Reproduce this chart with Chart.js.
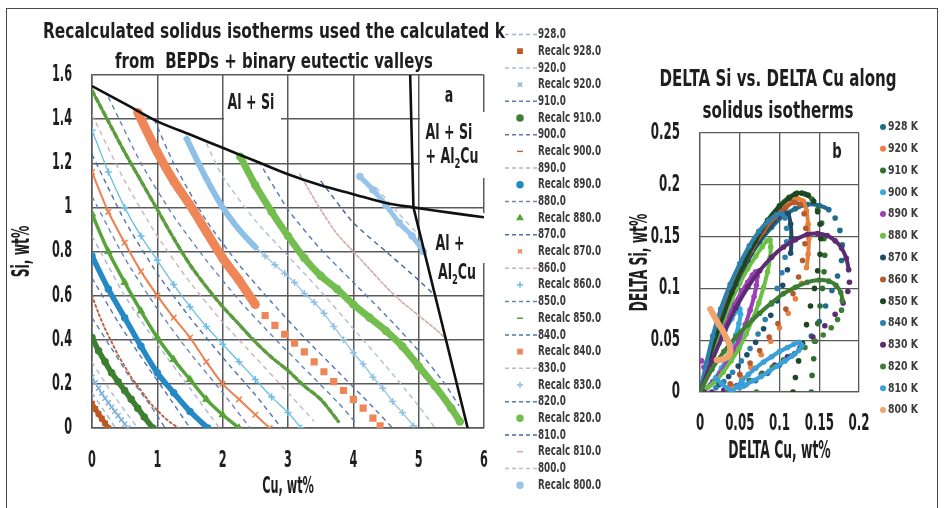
<!DOCTYPE html>
<html>
<head>
<meta charset="utf-8">
<script src="https://cdn.jsdelivr.net/npm/chart.js@4"></script>
<style>
  html, body { margin: 0; padding: 0; background: #fff; }
  #page { position: relative; width: 944px; height: 508px; overflow: hidden; background: #fff; }
  #frame { position: absolute; left: 6px; top: 8px; width: 930px; height: 520px; border: 1.5px solid #4a4a4a; }
  #left { position: absolute; left: 0; top: 0; width: 620px; height: 508px; }
  #right { position: absolute; left: 620px; top: 0; width: 324px; height: 508px; }
</style>
</head>
<body>
<div id="page">
  <div id="frame"></div>
  <canvas id="left" width="620" height="508"></canvas>
  <canvas id="right" width="324" height="508"></canvas>
</div>
<script>
// ---------- Panel a: solidus isotherms, [Cu wt%, Si wt%] ----------
const isothermTemps = ['928.0','920.0','910.0','900.0','890.0','880.0','870.0','860.0','850.0','840.0','830.0','820.0','810.0','800.0'];

// straight isotherms (dashed)
const line928 = [[0,0.16],[0.18,0.08],[0.36,0.0]];
const line920 = [[0,0.3],[0.3,0.16],[0.6,0.04],[0.7,0.0]];
const line910 = [[0,0.5],[0.3,0.36],[0.6,0.22],[0.9,0.1],[1.12,0.0]];
const line900 = [[0,0.68],[0.4,0.48],[0.8,0.3],[1.2,0.13],[1.5,0.0]];
const line890 = [[0,0.87],[0.5,0.6],[1,0.38],[1.5,0.18],[1.95,0.0]];
const line880 = [[0,1.05],[0.5,0.77],[1,0.54],[1.5,0.34],[2,0.16],[2.42,0.0]];
const line870 = [[0,1.24],[0.5,0.94],[1,0.7],[1.5,0.5],[2,0.32],[2.5,0.15],[2.9,0.0]];
const line860 = [[0,1.42],[0.5,1.12],[1,0.87],[1.5,0.66],[2,0.48],[2.5,0.32],[3,0.16],[3.4,0.03]];
const line850 = [[0.25,1.5],[0.75,1.2],[1.25,0.96],[1.75,0.76],[2.25,0.58],[2.75,0.42],[3.25,0.27],[3.75,0.12],[4.05,0.02]];
const line840 = [[0.95,1.4],[1.25,1.2],[1.75,0.94],[2.25,0.74],[2.75,0.57],[3.25,0.41],[3.75,0.26],[4.25,0.11],[4.6,0.0]];
const line830 = [[1.75,1.29],[2,1.14],[2.5,0.94],[3,0.78],[3.5,0.62],[4,0.45],[4.5,0.28],[5,0.1],[5.25,0.0]];
const line820 = [[2.55,1.21],[3,0.99],[3.5,0.81],[4,0.66],[4.5,0.51],[5,0.35],[5.4,0.2],[5.62,0.1]];
const line810 = [[3.5,1.12],[4,0.93],[4.5,0.8],[5,0.67],[5.25,0.6]];
const line800 = [[4.35,1.09],[4.7,0.97],[5.02,0.87]];

// recalculated isotherms
const recalc928 = [[0,0.11],[0.05,0.087],[0.1,0.064],[0.15,0.043],[0.2,0.021],[0.25,0.0]];
const recalc920 = [[0,0.23],[0.05,0.205],[0.1,0.18],[0.15,0.157],[0.2,0.135],[0.25,0.115],[0.3,0.095],[0.35,0.075],[0.4,0.056],[0.45,0.037],[0.5,0.018],[0.55,0.0]];
const recalc910 = [[0,0.41],[0.1,0.35],[0.2,0.3],[0.3,0.25],[0.4,0.21],[0.5,0.17],[0.6,0.13],[0.7,0.09],[0.8,0.05],[0.93,0.0]];
const recalc900 = [[0,0.6],[0.1,0.52],[0.2,0.45],[0.3,0.39],[0.4,0.33],[0.5,0.28],[0.6,0.23],[0.7,0.19],[0.8,0.15],[0.9,0.11],[1,0.08],[1.1,0.05],[1.2,0.025],[1.33,0.0]];
const recalc890 = [[0,0.78],[0.25,0.63],[0.5,0.5],[0.75,0.37],[1,0.25],[1.25,0.16],[1.5,0.075],[1.77,0.0]];
const recalc880 = [[0,0.97],[0.25,0.8],[0.5,0.66],[0.75,0.53],[1,0.41],[1.25,0.31],[1.5,0.22],[1.75,0.13],[2,0.06],[2.25,0.0]];
const recalc870 = [[0,1.16],[0.25,0.98],[0.5,0.84],[0.75,0.71],[1,0.6],[1.25,0.5],[1.5,0.41],[1.75,0.3],[2,0.2],[2.25,0.13],[2.5,0.06],[2.72,0.0]];
const recalc860 = [[0,1.35],[0.25,1.16],[0.5,1.0],[0.75,0.87],[1,0.76],[1.25,0.65],[1.5,0.55],[1.75,0.46],[2,0.38],[2.25,0.3],[2.5,0.22],[2.75,0.14],[3,0.07],[3.2,0.0]];
const recalc850 = [[0,1.53],[0.25,1.39],[0.5,1.25],[0.75,1.12],[1,0.99],[1.25,0.86],[1.5,0.74],[1.75,0.64],[2,0.55],[2.25,0.47],[2.5,0.39],[2.75,0.32],[3,0.26],[3.25,0.19],[3.5,0.13],[3.77,0.03]];
const recalc840 = [[0.7,1.43],[1,1.25],[1.25,1.12],[1.5,1.01],[1.75,0.89],[2,0.77],[2.25,0.67],[2.5,0.56],[2.65,0.51],[2.8,0.465],[2.95,0.425],[3.1,0.385],[3.25,0.345],[3.4,0.3],[3.55,0.255],[3.7,0.21],[3.85,0.17],[4,0.13],[4.15,0.09],[4.3,0.045],[4.41,0.01]];
const recalc830 = [[1.45,1.31],[1.75,1.13],[2,1.0],[2.25,0.9],[2.5,0.82],[2.65,0.78],[2.8,0.74],[2.95,0.7],[3.1,0.66],[3.25,0.61],[3.4,0.57],[3.55,0.52],[3.7,0.46],[3.85,0.4],[4,0.34],[4.15,0.29],[4.3,0.23],[4.45,0.18],[4.6,0.12],[4.75,0.07],[4.92,0.01]];
const recalc820 = [[2.27,1.23],[2.5,1.1],[2.75,0.98],[3,0.87],[3.25,0.77],[3.5,0.69],[3.75,0.63],[4,0.56],[4.25,0.5],[4.5,0.44],[4.75,0.37],[5,0.28],[5.25,0.19],[5.5,0.09],[5.63,0.03]];
const recalc810 = [[3.18,1.15],[3.5,0.99],[3.75,0.88],[4,0.8],[4.25,0.72],[4.5,0.64],[4.75,0.57],[5,0.51],[5.25,0.45],[5.43,0.4]];
const recalc800 = [[4.1,1.14],[4.3,1.08],[4.5,1.01],[4.7,0.93],[4.9,0.87],[5.07,0.8]];

// phase boundaries
const siValley = [[0,1.55],[0.5,1.47],[1,1.39],[1.5,1.33],[2,1.27],[2.5,1.21],[3,1.15],[3.5,1.1],[4,1.06],[4.5,1.02],[4.92,1.0],[5.5,0.975],[6,0.955]];
const al2cuValley = [[4.87,1.6],[4.92,1.0],[5.75,0.0]];

const leftXTicks = ['0','1','2','3','4','5','6'];
const leftYTicks = ['0','0.2','0.4','0.6','0.8','1','1.2','1.4','1.6'];

// ---------- Panel b: DELTA Si vs DELTA Cu, [dCu wt%, dSi wt%] ----------
const loopLabels = ['928 K','920 K','910 K','900 K','890 K','880 K','870 K','860 K','850 K','840 K','830 K','820 K','810 K','800 K'];

const arc928 = [[0,0],[0.01,0.028],[0.02,0.055],[0.03,0.078],[0.045,0.105],[0.06,0.127],[0.075,0.145],[0.09,0.159],[0.105,0.17],[0.12,0.177],[0.135,0.181],[0.15,0.18],[0.162,0.176]];
const ret928 = [[0.17,0.168],[0.176,0.156],[0.179,0.142],[0.178,0.127],[0.173,0.112],[0.166,0.098],[0.158,0.083],[0.15,0.068],[0.14,0.054],[0.128,0.044],[0.115,0.035],[0.1,0.026],[0.085,0.018],[0.07,0.011],[0.055,0.006],[0.04,0.002]];
const arc920 = [[0,0],[0.01,0.03],[0.02,0.057],[0.035,0.09],[0.05,0.117],[0.065,0.14],[0.08,0.158],[0.095,0.172],[0.11,0.182],[0.122,0.187],[0.13,0.184],[0.134,0.175],[0.136,0.162],[0.137,0.148],[0.136,0.133],[0.134,0.12]];
const ret920 = [[0.128,0.105],[0.12,0.09],[0.111,0.076],[0.1,0.062],[0.089,0.049],[0.077,0.036],[0.064,0.024],[0.052,0.014],[0.04,0.006]];
const arc910 = [[0,0],[0.012,0.035],[0.025,0.065],[0.04,0.097],[0.055,0.124],[0.07,0.147],[0.085,0.166],[0.1,0.18],[0.112,0.188],[0.122,0.192],[0.132,0.191],[0.141,0.186]];
const ret910 = [[0.148,0.176],[0.153,0.163],[0.156,0.148],[0.157,0.132],[0.156,0.116],[0.154,0.1],[0.151,0.083],[0.148,0.066],[0.145,0.049],[0.143,0.032],[0.141,0.016],[0.14,0]];
const arc900 = [[0,0],[0.008,0.016],[0.016,0.032],[0.024,0.047],[0.032,0.06],[0.04,0.071],[0.046,0.078],[0.05,0.08],[0.051,0.075],[0.049,0.066],[0.045,0.055],[0.04,0.044],[0.034,0.033],[0.027,0.023],[0.02,0.014],[0.013,0.007],[0.006,0.002]];
const ret900 = [];
const arc890 = [[0,0],[0.008,0.02],[0.016,0.038],[0.025,0.055],[0.034,0.07],[0.043,0.084],[0.052,0.096],[0.06,0.106],[0.066,0.113],[0.07,0.116],[0.072,0.112],[0.071,0.103],[0.068,0.092],[0.063,0.079],[0.057,0.065],[0.05,0.052],[0.042,0.039],[0.034,0.028],[0.025,0.018],[0.016,0.01],[0.008,0.004]];
const ret890 = [[0.002,0.03],[0.005,0.024]];
const arc880 = [[0,0],[0.01,0.026],[0.02,0.05],[0.03,0.071],[0.04,0.089],[0.05,0.105],[0.06,0.119],[0.07,0.131],[0.078,0.14],[0.084,0.146],[0.088,0.147],[0.089,0.14],[0.088,0.129],[0.085,0.116],[0.08,0.101],[0.074,0.086],[0.066,0.07],[0.058,0.056],[0.049,0.042],[0.039,0.03],[0.029,0.019],[0.019,0.01],[0.009,0.004]];
const ret880 = [];
const arc870 = [[0,0],[0.01,0.03],[0.02,0.056],[0.03,0.078],[0.045,0.104],[0.06,0.127],[0.075,0.146],[0.088,0.16],[0.098,0.169],[0.106,0.174],[0.111,0.172],[0.114,0.162],[0.115,0.148],[0.114,0.134]];
const ret870 = [[0.11,0.118],[0.104,0.103],[0.097,0.088],[0.089,0.074],[0.08,0.061],[0.07,0.048],[0.059,0.036],[0.048,0.025],[0.036,0.015],[0.024,0.007]];
const arc860 = [[0,0],[0.01,0.029],[0.02,0.055],[0.035,0.088],[0.05,0.114],[0.065,0.137],[0.08,0.155],[0.095,0.169],[0.108,0.178],[0.118,0.183],[0.126,0.181]];
const ret860 = [[0.131,0.172],[0.133,0.158],[0.132,0.143],[0.129,0.127],[0.124,0.111],[0.117,0.095],[0.108,0.08],[0.098,0.066],[0.087,0.053],[0.075,0.04],[0.063,0.028],[0.05,0.017],[0.038,0.008]];
const arc850 = [[0,0],[0.012,0.034],[0.025,0.064],[0.04,0.096],[0.055,0.123],[0.07,0.146],[0.085,0.165],[0.1,0.179],[0.112,0.187],[0.12,0.191],[0.128,0.192],[0.136,0.19]];
const ret850 = [[0.143,0.184],[0.148,0.174],[0.151,0.162],[0.152,0.148],[0.151,0.133],[0.148,0.117],[0.144,0.1],[0.139,0.083],[0.134,0.065],[0.129,0.047],[0.124,0.03],[0.12,0.014],[0.117,0]];
const arc840 = [[0,0],[0.008,0.028],[0.016,0.054],[0.026,0.08],[0.038,0.104],[0.05,0.124],[0.062,0.141],[0.074,0.155],[0.086,0.165],[0.096,0.171],[0.103,0.172],[0.107,0.168]];
const ret840 = [[0.109,0.158],[0.109,0.145],[0.107,0.13],[0.103,0.115],[0.097,0.1],[0.09,0.085],[0.082,0.07],[0.073,0.056],[0.063,0.042],[0.052,0.03],[0.041,0.019],[0.03,0.01],[0.02,0.004]];
const arc830 = [[0,0],[0.015,0.03],[0.03,0.057],[0.045,0.081],[0.06,0.101],[0.075,0.117],[0.09,0.13],[0.105,0.14],[0.12,0.147],[0.135,0.152],[0.148,0.153],[0.16,0.151],[0.17,0.146],[0.178,0.139],[0.184,0.129],[0.187,0.118]];
const ret830 = [[0.188,0.106],[0.186,0.097],[0.18,0.086],[0.17,0.075],[0.157,0.064],[0.142,0.053],[0.126,0.043],[0.11,0.034],[0.094,0.026],[0.078,0.018],[0.062,0.011],[0.046,0.006],[0.03,0.002],[0.015,0],[0.005,0]];
const arc820 = [[0,0],[0.015,0.022],[0.03,0.039],[0.045,0.053],[0.06,0.065],[0.075,0.076],[0.09,0.086],[0.105,0.095],[0.12,0.101],[0.135,0.106],[0.15,0.108],[0.162,0.107],[0.171,0.103],[0.177,0.096],[0.179,0.088]];
const ret820 = [[0.178,0.079],[0.173,0.07],[0.165,0.062],[0.155,0.055],[0.144,0.049],[0.132,0.043],[0.119,0.037],[0.105,0.031],[0.091,0.024],[0.077,0.017],[0.063,0.011],[0.049,0.005],[0.035,0.001],[0.071,0]];
const arc810 = [[0.02,0.013],[0.027,0.008],[0.034,0.004],[0.04,0.001],[0.046,0.005],[0.053,0.011],[0.061,0.017],[0.07,0.023],[0.08,0.029],[0.09,0.034],[0.1,0.039],[0.11,0.043],[0.118,0.046],[0.125,0.048],[0.128,0.045],[0.124,0.04],[0.116,0.035],[0.107,0.03],[0.097,0.025],[0.087,0.02],[0.077,0.015],[0.067,0.011],[0.058,0.007],[0.05,0.004]];
const ret810 = [];
const arc800 = [[0.013,0.08],[0.018,0.073],[0.023,0.066],[0.028,0.06],[0.032,0.054],[0.036,0.048],[0.038,0.043],[0.038,0.038],[0.035,0.034],[0.03,0.032],[0.025,0.031],[0.021,0.031]];
const ret800 = [];

const rightXTicks = ['0','0.05','0.1','0.15','0.2'];
const rightYTicks = ['0','0.05','0.1','0.15','0.2','0.25'];

// ---------- styling ----------
const FONT = "'DejaVu Sans','Liberation Sans',sans-serif";
const INK = '#1e1e1e';
const GRID = '#5a5a5a';
Chart.defaults.font.family = FONT;
Chart.defaults.color = INK;

const lineSeries = [line928, line920, line910, line900, line890, line880, line870, line860, line850, line840, line830, line820, line810, line800];
const recalcSeries = [recalc928, recalc920, recalc910, recalc900, recalc890, recalc880, recalc870, recalc860, recalc850, recalc840, recalc830, recalc820, recalc810, recalc800];
const lineColors = ['#9fb3d4','#aebcd4','#5b7cb9','#5677b5','#a9b7cf','#6a86bd','#4f6fae','#cdb2bb','#6583ba','#5274b3','#b0bdd3','#5778b6','#45639f','#b6c0d3'];
const recalcStyles = [
  { color: '#bd5a24', point: 'rect',     radius: 3,   width: 5 },
  { color: '#7fb0dc', point: 'crossRot', radius: 3.5, width: 1.2 },
  { color: '#3c7f30', point: 'circle',   radius: 3,   width: 5.5 },
  { color: '#b8694a', point: 'line',     radius: 0,   width: 2,   dash: [2, 3], legendPoint: 'line' },
  { color: '#2489c4', point: 'circle',   radius: 3,   width: 5.5 },
  { color: '#56a43a', point: 'triangle', radius: 3.5, width: 3.5 },
  { color: '#ec8150', point: 'crossRot', radius: 4,   width: 2 },
  { color: '#6cbde3', point: 'cross',    radius: 3.5, width: 1.3 },
  { color: '#5a9c3e', point: 'line',     radius: 0,   width: 3.5, dash: [5, 3], legendPoint: 'line' },
  { color: '#ee8658', point: 'rect',     radius: 4,   width: 9,   thinFrom: 2.5, thinWidth: 0 },
  { color: '#8dc0e6', point: 'cross',    radius: 3.5, width: 6,   thinFrom: 2.5, thinWidth: 1.2 },
  { color: '#74bd4f', point: 'circle',   radius: 3.5, width: 7 },
  { color: '#d3aaa8', point: 'line',     radius: 0,   width: 1.6, dash: [3, 2], legendPoint: 'line' },
  { color: '#98c4ea', point: 'circle',   radius: 3,   width: 5 }
];

const loopArcs = [arc928, arc920, arc910, arc900, arc890, arc880, arc870, arc860, arc850, arc840, arc830, arc820, arc810, arc800];
const loopReturns = [ret928, ret920, ret910, ret900, ret890, ret880, ret870, ret860, ret850, ret840, ret830, ret820, ret810, ret800];
const loopColors = ['#1f6b8e','#e8803f','#2f6f2f','#37a9db','#9c3fb8','#6bbf47','#1e4c66','#b45a2c','#1d4623','#2e80ad','#5d2b72','#3e7e34','#3aa0d9','#f2a46e'];
const loopWidths = [4, 4, 4, 4, 4, 4, 4, 4, 4, 4, 4, 4, 4, 6];

const toXY = arr => arr.map(([x, y]) => ({ x, y }));

// ---------- text helpers (condensed look via horizontal squeeze) ----------
function fitText(ctx, text, x, y, size, width, color) {
  ctx.save();
  ctx.font = `bold ${size}px ${FONT}`;
  const w = ctx.measureText(text).width;
  const k = width ? width / w : 1;
  ctx.translate(x, y);
  ctx.scale(k, 1);
  ctx.textAlign = 'center';
  ctx.textBaseline = 'middle';
  ctx.fillStyle = color || INK;
  ctx.fillText(text, 0, 0);
  ctx.restore();
}

function squeezeText(ctx, text, x, y, size, kx, color) {
  ctx.save();
  ctx.font = `bold ${size}px ${FONT}`;
  ctx.translate(x, y);
  ctx.scale(kx, 1);
  ctx.textAlign = 'left';
  ctx.textBaseline = 'middle';
  ctx.fillStyle = color;
  ctx.fillText(text, 0, 0);
  ctx.restore();
}

function chemText(ctx, parts, cx, cy, size) {
  ctx.save();
  const big = `bold ${size}px ${FONT}`;
  const small = `bold ${Math.round(size * 0.65)}px ${FONT}`;
  const kx = 0.6;
  let total = 0;
  parts.forEach(([t, sub]) => { ctx.font = sub ? small : big; total += ctx.measureText(t).width; });
  ctx.translate(cx - total * kx / 2, cy);
  ctx.scale(kx, 1);
  let x = 0;
  ctx.textBaseline = 'middle';
  ctx.textAlign = 'left';
  ctx.fillStyle = INK;
  parts.forEach(([t, sub]) => {
    ctx.font = sub ? small : big;
    ctx.fillText(t, x, sub ? size * 0.32 : 0);
    x += ctx.measureText(t).width;
  });
  ctx.restore();
}

// Axis text (ticks and axis titles) drawn by Chart.js is squeezed horizontally
// around its anchor so the digits get the tall, narrow look of the labels.
const TICK_SIZE = 23;
function condensedAxes(targetWidth) {
  return {
    id: 'condensedAxes',
    beforeDraw(chart) {
      const ctx = chart.ctx;
      ctx.save();
      ctx.font = `bold ${TICK_SIZE}px ${FONT}`;
      const k = targetWidth / ctx.measureText('1.6').width;
      ctx.restore();
      const base = CanvasRenderingContext2D.prototype.fillText;
      ctx.fillText = function (text, x, y) {
        this.save();
        this.translate(x, y);
        this.scale(k, 1);
        base.call(this, text, 0, 0);
        this.restore();
      };
    },
    beforeDatasetsDraw(chart) {
      delete chart.ctx.fillText;
    }
  };
}

// ---------- panel a datasets ----------
const leftDatasets = [];
isothermTemps.forEach((t, i) => {
  leftDatasets.push({
    label: t,
    data: toXY(lineSeries[i]),
    showLine: true,
    borderColor: lineColors[i],
    borderWidth: 1.4,
    borderDash: [5, 4],
    pointRadius: 0,
    tension: 0.2
  });
  const s = recalcStyles[i];
  const ds = {
    label: 'Recalc ' + t,
    data: toXY(recalcSeries[i]),
    showLine: true,
    borderColor: s.color,
    borderWidth: s.width,
    borderDash: s.dash || [],
    borderCapStyle: 'round',
    pointStyle: s.point,
    pointRadius: s.radius,
    pointBorderColor: s.color,
    pointBackgroundColor: s.color,
    pointBorderWidth: 1.5,
    tension: 0.3
  };
  if (s.thinFrom !== undefined) {
    ds.segment = {
      borderWidth: c => (c.p0.parsed.x >= s.thinFrom && s.thinWidth > 0) ? s.thinWidth : undefined,
      borderColor: c => (c.p0.parsed.x >= s.thinFrom && s.thinWidth === 0) ? 'rgba(0,0,0,0)' : undefined
    };
  }
  leftDatasets.push(ds);
});
leftDatasets.push({ label: 'valley', data: toXY(siValley), showLine: true, borderColor: '#111', borderWidth: 2.6, pointRadius: 0, tension: 0.3 });
leftDatasets.push({ label: 'valley2', data: toXY(al2cuValley), showLine: true, borderColor: '#111', borderWidth: 2.6, pointRadius: 0, tension: 0 });
const nLeft = leftDatasets.length;
leftDatasets.forEach((d, i) => { d.order = nLeft - 1 - i; });

const leftDecor = {
  id: 'leftDecor',
  beforeDatasetsDraw(chart) {
    const ctx = chart.ctx;
    ctx.save();
    ctx.fillStyle = '#fff';
    ctx.fillRect(224, 86, 57, 38);
    ctx.fillRect(420, 112, 70, 66);
    ctx.fillRect(421, 213, 69, 50);
    ctx.restore();
    chemText(ctx, [['Al + Si', false]], 251, 104, 21);
    chemText(ctx, [['a', false]], 449, 97, 21);
    chemText(ctx, [['Al + Si', false]], 449, 134, 21);
    chemText(ctx, [['+ Al', false], ['2', true], ['Cu', false]], 452, 158, 21);
    chemText(ctx, [['Al +', false]], 450, 245, 21);
    chemText(ctx, [['Al', false], ['2', true], ['Cu', false]], 457, 274, 21);
  },
  afterDraw(chart) {
    const ctx = chart.ctx;
    fitText(ctx, 'Recalculated solidus isotherms used the calculated k', 274, 33, 21, 462);
    fitText(ctx, 'from  BEPDs + binary eutectic valleys', 274, 63, 21, 318);
    // legend
    ctx.save();
    ctx.font = `bold 14px ${FONT}`;
    const kx = 63 / ctx.measureText('Recalc 928.0').width;
    ctx.restore();
    for (let i = 0; i < 28; i++) {
      const d = leftDatasets[i];
      const y = 34.5 + i * 16.69;
      ctx.save();
      if (i % 2 === 0) {
        ctx.strokeStyle = d.borderColor;
        ctx.lineWidth = 1.5;
        ctx.setLineDash([4, 3]);
        ctx.beginPath();
        ctx.moveTo(505, y);
        ctx.lineTo(537, y);
        ctx.stroke();
      } else {
        const s = recalcStyles[(i - 1) / 2];
        ctx.strokeStyle = s.color;
        ctx.fillStyle = s.color;
        ctx.lineWidth = 1.5;
        const style = s.legendPoint || s.point;
        Chart.helpers.drawPoint(ctx, { pointStyle: style, radius: 3, rotation: 0, borderWidth: 1.5 }, 520, y);
      }
      ctx.restore();
      squeezeText(ctx, d.label, 538, y, 14, kx, '#3a3a3a');
    }
  }
};

const tickFont = { size: TICK_SIZE, weight: 'bold' };

new Chart(document.getElementById('left'), {
  type: 'scatter',
  data: { datasets: leftDatasets },
  options: {
    responsive: false,
    animation: false,
    devicePixelRatio: 1,
    events: [],
    layout: { padding: { left: 0, top: 75, right: 136, bottom: 0 } },
    plugins: { legend: { display: false }, tooltip: { enabled: false } },
    scales: {
      x: {
        type: 'linear', min: 0, max: 6,
        ticks: { stepSize: 1, padding: 19, font: tickFont, color: INK, maxRotation: 0, autoSkip: false, callback: (v, i) => leftXTicks[i] },
        grid: { color: GRID, lineWidth: 1.5, drawTicks: false },
        border: { color: GRID, width: 1.5 },
        title: { display: true, text: 'Cu, wt%', font: { size: 23, weight: 'bold' }, color: INK, padding: { top: 0, bottom: 7 } },
        afterFit: s => { s.height = 80; }
      },
      y: {
        type: 'linear', min: 0, max: 1.6,
        ticks: { stepSize: 0.2, padding: 20, font: tickFont, color: INK, autoSkip: false, callback: (v, i) => leftYTicks[i] },
        grid: { color: GRID, lineWidth: 1.5, drawTicks: false },
        border: { color: GRID, width: 1.5 },
        title: { display: true, text: 'Si, wt%', font: { size: 25, weight: 'bold' }, color: INK, padding: { top: 7, bottom: 0 } },
        afterFit: s => { s.width = 92; }
      }
    }
  },
  plugins: [condensedAxes(20), leftDecor]
});

// ---------- panel b ----------
const rightDatasets = loopLabels.map((lab, i) => {
  const joined = loopArcs[i].length;
  return {
    label: lab,
    data: toXY(loopArcs[i].concat(loopReturns[i])),
    showLine: true,
    borderColor: loopColors[i],
    borderWidth: loopWidths[i],
    borderCapStyle: 'round',
    borderJoinStyle: 'round',
    pointRadius: 2.8,
    pointBorderWidth: 0,
    pointBackgroundColor: loopColors[i],
    tension: 0.2,
    order: loopLabels.length - 1 - i,
    segment: { borderColor: c => c.p1DataIndex >= joined ? 'rgba(0,0,0,0)' : undefined }
  };
});

const rightDecor = {
  id: 'rightDecor',
  beforeDatasetsDraw(chart) {
    chemText(chart.ctx, [['b', false]], 217, 152, 22);
  },
  afterDraw(chart) {
    const ctx = chart.ctx;
    fitText(ctx, 'DELTA Si vs. DELTA Cu along', 158, 80, 23, 237);
    fitText(ctx, 'solidus isotherms', 158, 112, 23, 151);
    ctx.save();
    ctx.font = `bold 13px ${FONT}`;
    const kx = 30 / ctx.measureText('928 K').width;
    ctx.restore();
    rightDatasets.forEach((d, i) => {
      const y = 127 + i * 21.77;
      ctx.save();
      ctx.fillStyle = d.borderColor;
      ctx.beginPath();
      ctx.arc(263, y, 3, 0, Math.PI * 2);
      ctx.fill();
      ctx.restore();
      squeezeText(ctx, d.label, 268, y, 13, kx, '#3a3a3a');
    });
  }
};

new Chart(document.getElementById('right'), {
  type: 'scatter',
  data: { datasets: rightDatasets },
  options: {
    responsive: false,
    animation: false,
    devicePixelRatio: 1,
    events: [],
    layout: { padding: { left: 0, top: 133, right: 85, bottom: 0 } },
    plugins: { legend: { display: false }, tooltip: { enabled: false } },
    scales: {
      x: {
        type: 'linear', min: 0, max: 0.2,
        ticks: { stepSize: 0.05, padding: 18, font: tickFont, color: INK, maxRotation: 0, minRotation: 0, autoSkip: false, callback: (v, i) => rightXTicks[i] },
        grid: { color: GRID, lineWidth: 1.3, drawTicks: false },
        border: { color: GRID, width: 1.3 },
        title: { display: true, text: 'DELTA Cu, wt%', font: { size: 24, weight: 'bold' }, color: INK, padding: { top: 0, bottom: 42 } },
        afterFit: s => { s.height = 116; }
      },
      y: {
        type: 'linear', min: 0, max: 0.25,
        ticks: { stepSize: 0.05, padding: 20, font: tickFont, color: INK, autoSkip: false, callback: (v, i) => rightYTicks[i] },
        grid: { color: GRID, lineWidth: 1.3, drawTicks: false },
        border: { color: GRID, width: 1.3 },
        title: { display: true, text: 'DELTA Si, wt%', font: { size: 24, weight: 'bold' }, color: INK, padding: { top: 6, bottom: 0 } },
        afterFit: s => { s.width = 80; }
      }
    }
  },
  plugins: [condensedAxes(21), rightDecor]
});
</script>
</body>
</html>
